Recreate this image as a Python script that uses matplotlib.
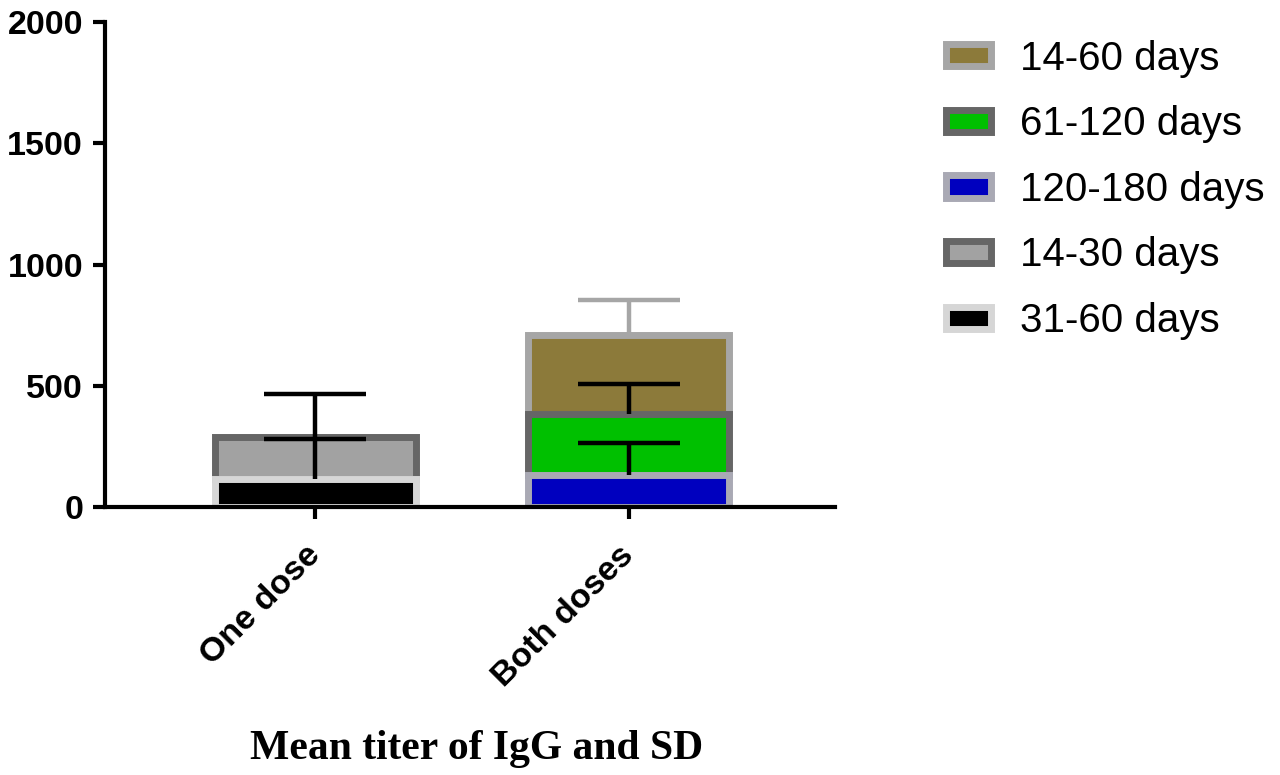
import numpy as np
import matplotlib.pyplot as plt


# --------------------------------------------------
# Data
# --------------------------------------------------

categories = ["One dose", "Both doses"]

# segment heights of the stacked bars (0 = not present in that group)
d14_60 = [0, 323]
d61_120 = [0, 254]
d120_180 = [0, 131]
d14_30 = [174, 0]
d31_60 = [115, 0]

# standard deviations (upper error bars)
sd14_60 = [0, 144]
sd61_120 = [0, 124]
sd120_180 = [0, 133]
sd14_30 = [178, 0]
sd31_60 = [167, 0]

legend_labels = ["14-60 days", "61-120 days", "120-180 days",
                 "14-30 days", "31-60 days"]

yticks = [0, 500, 1000, 1500, 2000]


# --------------------------------------------------
# Styles
# --------------------------------------------------

# name: (values, sd, face, edge, errcolor)
series = {
    "31-60 days": (d31_60, sd31_60, "#000000", "#d6d6d6", "#000000"),
    "120-180 days": (d120_180, sd120_180, "#0000bf", "#a9a9b4", "#000000"),
    "14-30 days": (d14_30, sd14_30, "#a2a2a2", "#666666", "#000000"),
    "61-120 days": (d61_120, sd61_120, "#00c000", "#666666", "#000000"),
    "14-60 days": (d14_60, sd14_60, "#8c7a3a", "#a6a6a6", "#a6a6a6"),
}
# bottom-up stacking order
stack_order = ["31-60 days", "120-180 days", "14-30 days",
               "61-120 days", "14-60 days"]

sans = ["Liberation Sans", "DejaVu Sans"]
serif = ["Liberation Serif", "DejaVu Serif"]


# --------------------------------------------------
# Plot
# --------------------------------------------------

fig = plt.figure(figsize=(12.8, 7.75), dpi=100)
ax = fig.add_axes([0.0823, 0.3458, 0.5703, 0.6258])

x = np.arange(len(categories))
bottom = np.zeros(len(categories))
width = 0.64

handles = {}
for i, name in enumerate(stack_order):
    vals, sd, face, edge, ecol = series[name]
    vals = np.array(vals, dtype=float)
    mask = vals > 0
    # lower segments are drawn on top of the upper ones
    z = 2.0 - i * 0.1
    bars = ax.bar(x[mask], vals[mask], width, bottom=bottom[mask],
                  color=face, edgecolor=edge, linewidth=5,
                  zorder=z, label=name)
    handles[name] = bars
    tops = bottom[mask] + vals[mask]
    errs = np.array(sd, dtype=float)[mask]
    _, caps, _ = ax.errorbar(x[mask], tops,
                             yerr=[np.zeros_like(errs), errs],
                             fmt="none", ecolor=ecol, elinewidth=3.2,
                             capsize=37, capthick=3.2, zorder=3)
    # only the upper cap is drawn
    for c in caps:
        if np.allclose(c.get_ydata(), tops):
            c.set_visible(False)
    bottom = bottom + vals

ax.set_xlim(-0.67, 1.66)
ax.set_ylim(0, 2000)
ax.set_yticks(yticks)
ax.set_xticks(x)
ax.set_xticklabels(categories, rotation=45, ha="right",
                   rotation_mode="anchor", va="center")

for s in ["top", "right"]:
    ax.spines[s].set_visible(False)
for s in ["left", "bottom"]:
    ax.spines[s].set_linewidth(3)
    ax.spines[s].set_zorder(5)

ax.tick_params(axis="both", length=8.5, width=3, labelsize=24.5)
ax.tick_params(axis="y", pad=7.5)
ax.tick_params(axis="x", pad=23)
for lab in ax.get_xticklabels() + ax.get_yticklabels():
    lab.set_family(sans)
    lab.set_fontweight("bold")

ax.set_xlabel("Mean titer of IgG and SD", family=serif,
              fontweight="bold", fontsize=30)
ax.xaxis.set_label_coords(0.508, -0.46)

fig.legend([handles[k] for k in legend_labels], legend_labels,
           loc="upper left", bbox_to_anchor=(0.739, 0.949),
           frameon=False, borderpad=0, borderaxespad=0,
           handlelength=1.12, handleheight=0.47, handletextpad=0.72,
           labelspacing=0.686, prop={"family": sans, "size": 29})

fig.savefig("out.png", dpi=100)
plt.close(fig)
